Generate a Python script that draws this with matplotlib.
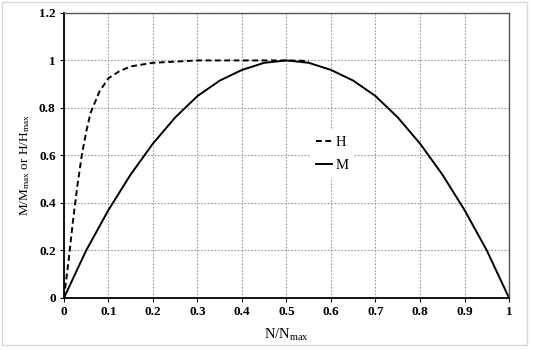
import numpy as np
import matplotlib
matplotlib.use("Agg")
import matplotlib.pyplot as plt
from matplotlib.patches import Rectangle

plt.rcParams["font.family"] = ["Liberation Serif", "DejaVu Serif"]
plt.rcParams["mathtext.fontset"] = "custom"
plt.rcParams["mathtext.rm"] = "Liberation Serif"
plt.rcParams["mathtext.default"] = "regular"

# H curve (dashed)
h_x = [0, 0.01, 0.02, 0.03, 0.04, 0.05, 0.06, 0.08, 0.1, 0.125, 0.15, 0.2,
       0.25, 0.3, 0.35, 0.4, 0.45, 0.5, 0.55]
h_y = [0, 0.15, 0.32, 0.47, 0.60, 0.70, 0.78, 0.87, 0.925, 0.955, 0.975, 0.99,
       0.995, 1.0, 1.0, 1.0, 1.0, 1.0, 0.998]

# M curve (solid)
m_x = [0, 0.05, 0.1, 0.15, 0.2, 0.25, 0.3, 0.35, 0.4, 0.45, 0.5,
       0.55, 0.6, 0.65, 0.7, 0.75, 0.8, 0.85, 0.9, 0.95, 1.0]
m_y = [0, 0.20, 0.37, 0.52, 0.65, 0.76, 0.85, 0.915, 0.96, 0.99, 1.0,
       0.99, 0.96, 0.915, 0.85, 0.76, 0.65, 0.52, 0.37, 0.20, 0]

x_ticks = [0, 0.1, 0.2, 0.3, 0.4, 0.5, 0.6, 0.7, 0.8, 0.9, 1]
x_labels = ["0", "0.1", "0.2", "0.3", "0.4", "0.5", "0.6", "0.7", "0.8", "0.9", "1"]
y_ticks = [0, 0.2, 0.4, 0.6, 0.8, 1.0, 1.2]
y_labels = ["0", "0.2", "0.4", "0.6", "0.8", "1", "1.2"]

fig = plt.figure(figsize = (5.33, 3.5), dpi = 100)
ax = fig.add_axes([0.120, 0.149, 0.835, 0.814])

ax.plot(h_x, h_y, color = "black", linewidth = 1.4,
    linestyle = (0, (3, 1.8)), label = "H")
ax.plot(m_x, m_y, color = "black", linewidth = 1.4, linestyle = "solid", label = "M")

ax.set_xlim(0, 1)
ax.set_ylim(0, 1.2)
ax.set_xticks(x_ticks)
ax.set_xticklabels(x_labels, fontsize = 9.5, fontweight = "bold")
ax.set_yticks(y_ticks)
ax.set_yticklabels(y_labels, fontsize = 9.5, fontweight = "bold")
ax.tick_params(direction = "out", length = 3, width = 0.8, pad = 3)

ax.grid(which = "major", color = "#9a9a9a", linestyle = (0, (1.5, 1.5)), linewidth = 0.8)
ax.set_axisbelow(True)

for side in ["left", "bottom"]:
    ax.spines[side].set_linewidth(1.3)
    ax.spines[side].set_color("black")
for side in ["top", "right"]:
    ax.spines[side].set_linewidth(1.0)
    ax.spines[side].set_color("#555555")
    ax.spines[side].set_linestyle((0, (3, 1)))

ax.set_xlabel(r"N/N$_{max}$", fontsize = 10.5, labelpad = 6)
ax.set_ylabel(r"M/M$_{max}$ or H/H$_{max}$", fontsize = 9.5)
ax.yaxis.set_label_coords(-0.072, 0.465)

leg = ax.legend(loc = "center", bbox_to_anchor = (0.603, 0.505), fontsize = 10.5,
    frameon = True, facecolor = "white", edgecolor = "none", framealpha = 1,
    fancybox = False, handlelength = 1.1, handletextpad = 0.2,
    labelspacing = 0.7, borderpad = 0.4)

fig.patches.append(Rectangle((0.004, 0.014), 0.985, 0.98, transform = fig.transFigure,
    fill = False, edgecolor = "#d9d9d9", linewidth = 1.0))

fig.savefig("out.png", dpi = 100)
